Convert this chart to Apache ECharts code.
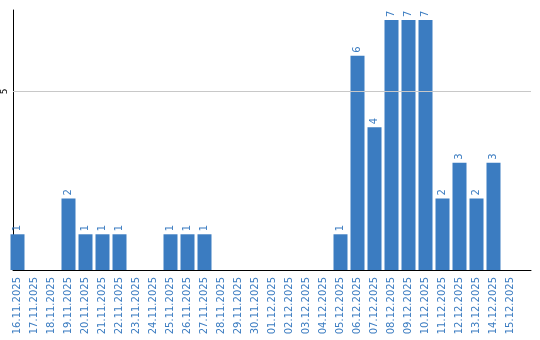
<!DOCTYPE html>
<html><head><meta charset="utf-8">
<script src="https://cdn.jsdelivr.net/npm/echarts@6/dist/echarts.min.js"></script>
<style>html,body{margin:0;padding:0;background:#fff}#c{width:540px;height:340px}</style>
</head><body><div id="c"></div>
<script>
const categories = ['16.11.2025','17.11.2025','18.11.2025','19.11.2025','20.11.2025','21.11.2025','22.11.2025','23.11.2025','24.11.2025','25.11.2025','26.11.2025','27.11.2025','28.11.2025','29.11.2025','30.11.2025','01.12.2025','02.12.2025','03.12.2025','04.12.2025','05.12.2025','06.12.2025','07.12.2025','08.12.2025','09.12.2025','10.12.2025','11.12.2025','12.12.2025','13.12.2025','14.12.2025','15.12.2025'];
const values = [1,0,0,2,1,1,1,0,0,1,1,1,0,0,0,0,0,0,0,1,6,4,7,7,7,2,3,2,3,0];
const yTicks = [5];
const yMax = 7.28;

const blue = '#3b7cc1';
const font = 'DejaVu Sans';
const chart = echarts.init(document.getElementById('c'));
chart.setOption({
  animation: false,
  grid: [
    {left: 9, right: 21, top: 10, bottom: 70},
    {left: 10, right: 9, top: 10, bottom: 70}
  ],
  xAxis: [
    {type: 'category', gridIndex: 0, data: categories,
     axisLine: {show: false}, axisTick: {show: false},
     axisLabel: {interval: 0, rotate: 90, margin: 7, color: blue, fontFamily: font, fontSize: 10}},
    {type: 'value', gridIndex: 1, min: 0, max: 1,
     axisLine: {show: true, onZero: false, lineStyle: {color: '#000', width: 1}},
     axisTick: {show: false}, axisLabel: {show: false}, splitLine: {show: false}}
  ],
  yAxis: [
    {type: 'value', gridIndex: 0, min: 0, max: yMax, show: false, splitLine: {show: false}},
    {type: 'value', gridIndex: 1, min: 0, max: yMax, interval: 5,
     axisLine: {show: true, lineStyle: {color: '#000', width: 1}},
     axisTick: {show: false}, splitLine: {show: false},
     axisLabel: {rotate: 90, margin: 4, color: '#000', fontFamily: font, fontSize: 9,
       formatter: v => yTicks.indexOf(v) >= 0 ? String(v) : ''}}
  ],
  series: [
    {type: 'line', xAxisIndex: 1, yAxisIndex: 1, data: [], silent: true,
     markLine: {silent: true, symbol: 'none', label: {show: false},
       lineStyle: {color: '#c8c8c8', type: 'solid', width: 1},
       data: yTicks.map(t => ({yAxis: t}))}},
    {type: 'bar', xAxisIndex: 0, yAxisIndex: 0, data: values, barWidth: 14,
     itemStyle: {color: blue}, z: 3,
     label: {show: true, position: 'top', rotate: 90, align: 'left', verticalAlign: 'middle',
       distance: 3, color: blue, fontFamily: font, fontSize: 10,
       formatter: p => p.value ? String(p.value) : ''}}
  ]
});
</script></body></html>
